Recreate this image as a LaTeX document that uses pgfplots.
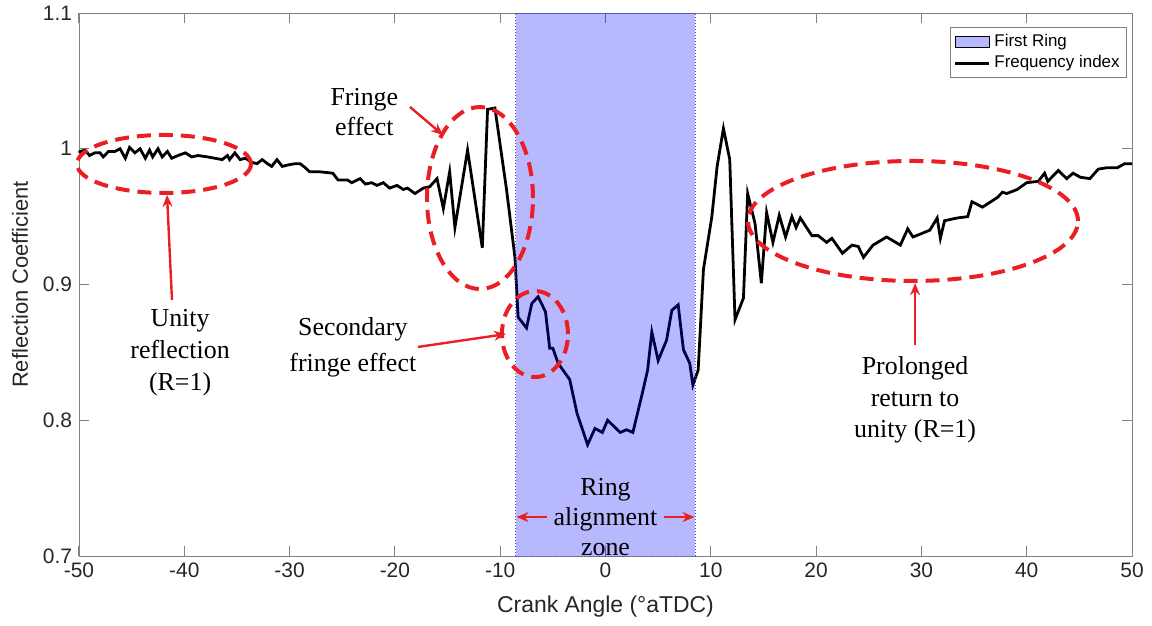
\documentclass[border=0pt]{standalone}
\usepackage{pgfplots}
\pgfplotsset{compat=1.18}
\usepackage{fontspec}
\setmainfont{Liberation Sans}
\newfontfamily\seriffont{Liberation Serif}
\usetikzlibrary{arrows.meta}
\definecolor{annred}{RGB}{235,30,36}
\definecolor{axgray}{RGB}{130,130,130}
\definecolor{txtgray}{RGB}{38,38,38}
\begin{document}
\begin{tikzpicture}
\begin{axis}[
  at={(0,0)}, anchor=south west,
  scale only axis, width=526.5bp, height=271.5bp,
  xmin=-50, xmax=50, ymin=0.7, ymax=1.1,
  xtick={-50,-40,...,50}, ytick={0.7,0.8,0.9,1,1.1},
  yticklabels={0.7,0.8,0.9,1,1.1},
  tick align=inside, major tick length=5bp,
  axis line style={axgray}, tick style={axgray, line width=0.5pt},
  every tick label/.append style={font=\fontsize{10.5}{12}\selectfont, text=txtgray},
  /pgf/number format/assume math mode=true,
  xlabel={Crank Angle (°aTDC)}, ylabel={Reflection Coefficient},
  every axis x label/.style={at={(axis description cs:0.5,0)}, yshift=-25.5bp, anchor=center, font=\fontsize{11.5}{13}\selectfont, text=txtgray},
  every axis y label/.style={at={(axis description cs:0,0.5)}, xshift=-29.5bp, rotate=90, anchor=center, font=\fontsize{11}{13}\selectfont, text=txtgray},
  clip=false,
  legend style={at={(1,1)}, anchor=north east, xshift=-2.5bp, yshift=-7bp, font=\fontsize{8.5}{10}\selectfont, draw=axgray, line width=0.4pt, inner sep=1.5pt, row sep=-1pt},
  legend cell align=left,
]
\addlegendimage{area legend, fill=blue!28, draw=none}
\addlegendentry{First Ring}
\addlegendimage{black, line width=1.3pt}
\addlegendentry{Frequency index}
\addplot[black, line width=1.4pt, forget plot] coordinates {
(-50,0.997) (-49.9,0.998) (-49.4,0.999) (-49.0,0.995) (-48.5,0.997) (-48.0,0.997)
(-47.7,0.994) (-47.2,0.998) (-46.6,0.998) (-46.1,1.000) (-45.6,0.993) (-45.2,1.001)
(-44.7,0.997) (-44.2,1.000) (-43.7,0.993) (-43.3,0.999) (-43.0,0.994) (-42.5,1.000)
(-42.1,0.994) (-41.6,0.998) (-41.2,0.993) (-40.6,0.995) (-39.9,0.997) (-39.3,0.994)
(-38.7,0.995) (-37.8,0.994) (-37.1,0.993) (-36.4,0.992) (-35.9,0.995) (-35.7,0.992)
(-35.2,0.997) (-34.7,0.992) (-34.2,0.993) (-33.6,0.990) (-33.1,0.989) (-32.6,0.992)
(-32.1,0.989) (-31.7,0.987) (-31.2,0.992) (-30.7,0.987) (-30.2,0.988) (-29.5,0.989)
(-29.0,0.989) (-28.5,0.986) (-28.1,0.983) (-27.1,0.983) (-25.9,0.982) (-25.4,0.977)
(-24.5,0.977) (-24.1,0.975) (-23.3,0.978) (-22.8,0.974) (-22.2,0.975) (-21.7,0.973)
(-21.1,0.975) (-20.5,0.971) (-19.8,0.973) (-19.2,0.970) (-18.8,0.971) (-18.1,0.967)
(-17.3,0.971) (-16.7,0.972) (-16.0,0.978) (-15.4,0.956) (-14.8,0.983) (-14.3,0.942)
(-13.1,0.999) (-11.7,0.927) (-11.2,1.029) (-10.5,1.030) (-9.4,0.970) (-8.6,0.920)
(-8.4,0.891) (-8.3,0.876) (-7.5,0.868) (-7.0,0.886) (-6.4,0.891) (-5.7,0.880)
(-5.3,0.853) (-5.0,0.853) (-4.5,0.842) (-3.4,0.830) (-2.7,0.805) (-1.7,0.782)
(-1.0,0.794) (-0.3,0.791) (0.2,0.800) (1.4,0.791) (2.0,0.793) (2.6,0.791)
(3.5,0.820) (4.0,0.837) (4.4,0.865) (5.0,0.844) (5.8,0.859) (6.3,0.881)
(6.9,0.885) (7.4,0.852) (8.0,0.842) (8.3,0.826) (8.8,0.837) (9.3,0.911)
(10.1,0.950) (10.6,0.987) (11.2,1.015) (11.8,0.992) (12.3,0.874) (13.1,0.890)
(13.5,0.967) (14.2,0.945) (14.8,0.901) (15.3,0.953) (15.9,0.931) (16.5,0.951)
(17.1,0.935) (17.7,0.950) (18.1,0.942) (18.5,0.949) (19.6,0.936) (20.2,0.936)
(21.0,0.931) (21.5,0.934) (22.5,0.923) (23.4,0.929) (24.0,0.928) (24.5,0.920)
(25.4,0.929) (26.7,0.935) (28.0,0.929) (28.7,0.941) (29.2,0.935) (30.8,0.940)
(31.5,0.949) (31.8,0.934) (32.2,0.947) (33.4,0.949) (34.4,0.950) (34.8,0.961)
(35.8,0.957) (37.2,0.964) (37.7,0.968) (38.1,0.967) (39.1,0.970) (40.0,0.975)
(41.1,0.976) (41.7,0.982) (42.0,0.976) (43.0,0.984) (43.8,0.978) (44.4,0.982)
(45.1,0.979) (46.0,0.978) (46.8,0.985) (47.6,0.986) (48.6,0.986) (49.3,0.989)
(50.0,0.989)
};
\addplot[fill=blue, fill opacity=0.28, draw=blue!40!gray, densely dotted, line width=0.5pt, forget plot]
  coordinates {(-8.5,0.7) (-8.5,1.1) (8.5,1.1) (8.5,0.7)} -- cycle;
% annotations
\begin{scope}[annred, line width=2bp, dash pattern=on 7bp off 4bp]
\draw (axis cs:-41.93,0.9888) ellipse [x radius=43.5bp, y radius=14.5bp];
\draw (axis cs:-11.92,0.9637) ellipse [x radius=26.5bp, y radius=45.5bp];
\draw (axis cs:-6.70,0.8635) ellipse [x radius=16.5bp, y radius=21.5bp];
\draw (axis cs:29.2,0.9468) ellipse [x radius=82.5bp, y radius=30bp];
\end{scope}
\begin{scope}[annred, line width=1.2bp, -{Stealth[length=6bp,width=5bp]}]
\draw (axis cs:-18.57,1.0308) -- (axis cs:-15.43,1.0101);
\draw (axis cs:-41.17,0.8886) -- (axis cs:-41.64,0.966);
\draw (axis cs:-17.81,0.854) -- (axis cs:-9.45,0.8635);
\draw (axis cs:-5.6,0.7287) -- (axis cs:-8.45,0.7287);
\draw (axis cs:5.6,0.7287) -- (axis cs:8.45,0.7287);
\draw (axis cs:29.4,0.8554) -- (axis cs:29.4,0.901);
\end{scope}
\begin{scope}[every node/.style={align=center, text=black, inner sep=0pt}]
\node[font=\seriffont\fontsize{13}{15}\selectfont] at (axis cs:-22.9,1.027) {Fringe\\effect};
\node[font=\seriffont\fontsize{13}{16}\selectfont] at (axis cs:-40.4,0.850) {Unity\\reflection\\(R=1)};
\node[font=\seriffont\fontsize{13}{18}\selectfont] at (axis cs:-24.0,0.854) {Secondary\\fringe effect};
\node[font=\seriffont\fontsize{13}{15}\selectfont] at (axis cs:0,0.7287) {Ring\\alignment\\zone};
\node[font=\seriffont\fontsize{13}{16}\selectfont] at (axis cs:29.4,0.815) {Prolonged\\return to\\unity (R=1)};
\end{scope}
\end{axis}
\pgfresetboundingbox
\path[use as bounding box] (-39.5bp,-35bp) rectangle (536.5bp,278bp);
\end{tikzpicture}
\end{document}
